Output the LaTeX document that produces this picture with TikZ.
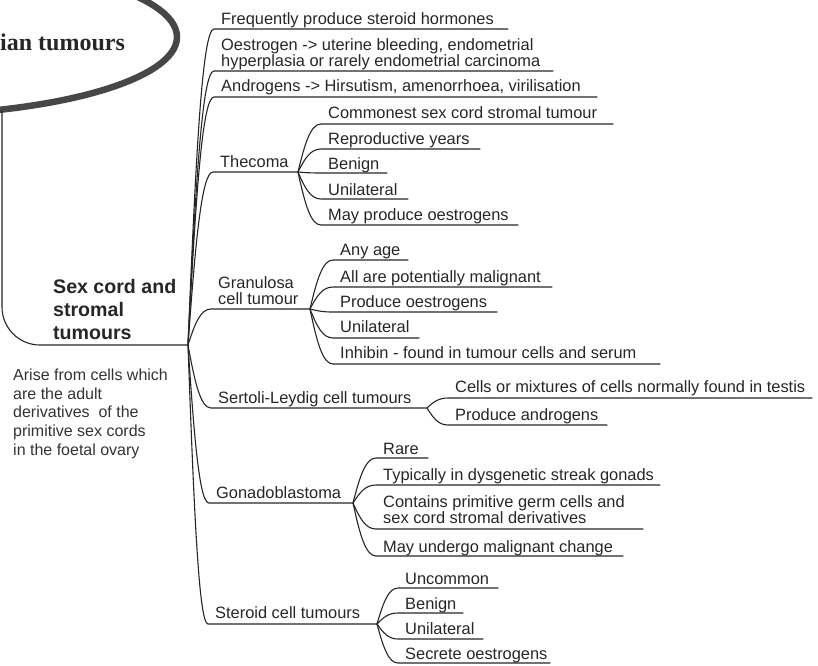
\documentclass[tikz,border=0pt]{standalone}
\usepackage{fontspec}
\setmainfont{Liberation Sans}
\newfontfamily\titlefont{Liberation Serif}
\usetikzlibrary{calc}
\tikzset{
  conn/.style={draw=black!85, line width=1.1pt, line cap=round},
  leaf/.style={inner sep=0pt, anchor=base west, text=black!85, align=left,
    font=\fontsize{16.4}{15.7}\selectfont},
  ovalline/.style={draw=black!72, line width=6.5pt},
  titletext/.style={inner sep=0pt, anchor=base west, text=black!85,
    font=\titlefont\bfseries\fontsize{24}{28}\selectfont},
  mainlabel/.style={inner sep=0pt, anchor=base west, text=black!85, align=left,
    font=\bfseries\fontsize{19.6}{23}\selectfont},
  desc/.style={inner sep=0pt, anchor=base west, text=black!80, align=left,
    font=\fontsize{16}{18.6}\selectfont}
}
% #1 name, #2 parent, #3 text x, #4 baseline of last text line,
% #5 underline y, #6 underline end x, #7 text
\newcommand\lf[7]{%
  \coordinate (#1-s) at (#3-7,#5);
  \coordinate (#1-e) at (#6,#5);
  \node[leaf] (#1) at (#3,#4) {#7};
  \draw[conn] let \p1=(#2), \p2=(#1-s) in (#2)
    .. controls ({\x1+0.3*(\x2-\x1)},{\y1+0.6*(\y2-\y1)}) and ({\x1+0.55*(\x2-\x1)},{\y2}) .. (#1-s)
    -- (#1-e);
}
\begin{document}
\begin{tikzpicture}[x=1pt,y=-1pt]
\useasboundingbox (0,0) rectangle (818,665);
\clip (0,0) rectangle (818,665);
% title oval
\draw[ovalline] (-100,37) ellipse [x radius=277, y radius=78];
\node[titletext] (title) at (0,50) {ian tumours};
\coordinate (ovbot) at (2,111);
\coordinate (root) at (188,345);
\draw[conn, rounded corners=38pt] (ovbot) |- (root);
\node[mainlabel] (sexcord) at (53,339) {Sex cord and\\stromal\\tumours};
\node[desc] (arise) at (13,455) {Arise from cells which\\are the adult\\derivatives\ \ of the\\primitive sex cords\\in the foetal ovary};
% first level
\lf{freq}{root}{221}{24}{29}{508}{Frequently produce steroid hormones}
\lf{oest}{root}{221}{66}{71}{553}{Oestrogen -> uterine bleeding, endometrial\\hyperplasia or rarely endometrial carcinoma}
\lf{andr}{root}{221}{91}{97}{597}{Androgens -> Hirsutism, amenorrhoea, virilisation}
\lf{thecoma}{root}{220}{167}{172}{298}{Thecoma}
\lf{gran}{root}{218}{304}{309}{310}{Granulosa\\cell tumour}
\lf{sert}{root}{218}{403}{408}{427}{Sertoli-Leydig cell tumours}
\lf{gona}{root}{216}{498}{503}{353}{Gonadoblastoma}
\lf{ster}{root}{215}{618}{624}{377}{Steroid cell tumours}
% thecoma
\lf{t1}{thecoma-e}{328}{118}{124}{613}{Commonest sex cord stromal tumour}
\lf{t2}{thecoma-e}{328}{144}{149}{480}{Reproductive years}
\lf{t3}{thecoma-e}{328}{169}{173}{387}{Benign}
\lf{t4}{thecoma-e}{328}{195}{199}{408}{Unilateral}
\lf{t5}{thecoma-e}{328}{220}{225}{518}{May produce oestrogens}
% granulosa
\lf{g1}{gran-e}{340}{255}{260}{408}{Any age}
\lf{g2}{gran-e}{340}{282}{287}{552}{All are potentially malignant}
\lf{g3}{gran-e}{340}{307}{312}{497}{Produce oestrogens}
\lf{g4}{gran-e}{340}{332}{338}{419}{Unilateral}
\lf{g5}{gran-e}{340}{358}{364}{660}{Inhibin - found in tumour cells and serum}
% sertoli
\lf{s1}{sert-e}{455}{392}{398}{812}{Cells or mixtures of cells normally found in testis}
\lf{s2}{sert-e}{455}{420}{425}{607}{Produce androgens}
% gonadoblastoma
\lf{d1}{gona-e}{383}{454}{458}{428}{Rare}
\lf{d2}{gona-e}{383}{480}{485}{660}{Typically in dysgenetic streak gonads}
\lf{d3}{gona-e}{383}{523}{529}{643}{Contains primitive germ cells and\\sex cord stromal derivatives}
\lf{d4}{gona-e}{383}{552}{556}{623}{May undergo malignant change}
% steroid
\lf{r1}{ster-e}{405}{584}{588}{498}{Uncommon}
\lf{r2}{ster-e}{405}{609}{613}{463}{Benign}
\lf{r3}{ster-e}{405}{634}{639}{483}{Unilateral}
\lf{r4}{ster-e}{405}{659}{663}{550}{Secrete oestrogens}
\end{tikzpicture}
\end{document}
